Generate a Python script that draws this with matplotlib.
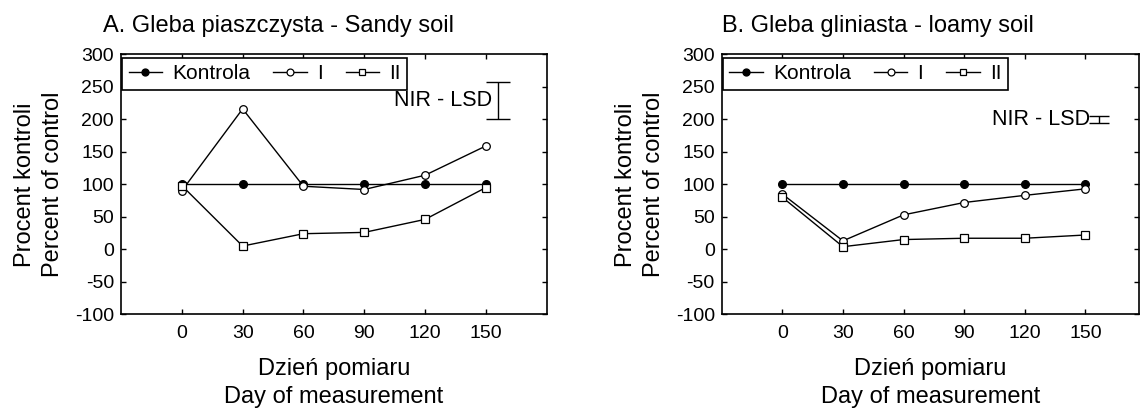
import matplotlib
matplotlib.use("Agg")
import matplotlib.pyplot as plt

plt.rcParams['font.family'] = ['Liberation Sans', 'DejaVu Sans']
plt.rcParams['axes.unicode_minus'] = False

# Measurement days
days = [0, 30, 60, 90, 120, 150]

# A. Sandy soil (percent of control)
a_kontrola = [100, 100, 100, 100, 100, 100]
a_one = [90, 216, 97, 92, 114, 159]
a_two = [98, 5, 24, 26, 46, 95]

# B. Loamy soil (percent of control)
b_kontrola = [100, 100, 100, 100, 100, 100]
b_one = [85, 13, 53, 72, 83, 93]
b_two = [80, 4, 15, 17, 17, 22]

# NIR - LSD bars: (day, centre, half width)
lsd_a = (156, 229, 29)
lsd_b = (156.5, 199.5, 5.5)

titles = ["A. Gleba piaszczysta - Sandy soil", "B. Gleba gliniasta - loamy soil"]

W, H = 1140, 408
fig = plt.figure(figsize=(W / 100, H / 100), dpi=100)

top_px, bot_px = 54.3, 314.3
ax_a = fig.add_axes([121 / W, (H - bot_px) / H, (546.7 - 121) / W, (bot_px - top_px) / H])
ax_b = fig.add_axes([721.7 / W, (H - bot_px) / H, (1139.2 - 721.7) / W, (bot_px - top_px) / H])


def draw_panel(ax, kontrola, one, two, lsd, capsize, text_gap, xmax):
    ax.plot(days, kontrola, color='black', lw=1.0, marker='o', ms=5.5,
            mfc='black', mec='black', label='Kontrola')
    ax.plot(days, one, color='black', lw=1.0, marker='o', ms=5.5,
            mfc='white', mec='black', mew=0.9, label='I')
    ax.plot(days, two, color='black', lw=1.0, marker='s', ms=5.5,
            mfc='white', mec='black', mew=0.9, label='II')

    ax.errorbar([lsd[0]], [lsd[1]], yerr=[lsd[2]], fmt='none', ecolor='black',
                elinewidth=1.0, capsize=capsize, capthick=1.0)
    ax.text(lsd[0] - text_gap, lsd[1], "NIR - LSD", ha='right', va='center', fontsize=15.5)

    ax.set_xlim(-30, xmax)
    ax.set_ylim(-100, 300)
    ax.set_xticks(days)
    ax.set_yticks(range(-100, 301, 50))
    ax.tick_params(direction='in', length=3.5, width=1.0, labelsize=14,
                   top=True, right=True, pad=5)
    ax.tick_params(axis='x', pad=8)
    for s in ax.spines.values():
        s.set_linewidth(1.2)

    ax.set_ylabel("Procent kontroli\nPercent of control", fontsize=17,
                  linespacing=1.35, labelpad=8)
    ax.set_xlabel("Dzień pomiaru\nDay of measurement", fontsize=17,
                  linespacing=1.4, labelpad=11)

    leg = ax.legend(loc='upper left', bbox_to_anchor=(0.003, 0.985), ncol=3,
                    fontsize=15, frameon=True, fancybox=False, borderaxespad=0,
                    handlelength=1.6, handletextpad=0.5, columnspacing=1.1,
                    borderpad=0.3, markerscale=0.9)
    leg.get_frame().set_edgecolor('black')
    leg.get_frame().set_linewidth(1.2)
    leg.get_frame().set_alpha(1)


draw_panel(ax_a, a_kontrola, a_one, a_two, lsd_a, 8.5, 3, 180)
draw_panel(ax_b, b_kontrola, b_one, b_two, lsd_b, 7, 4, 176.6)

fig.text(103 / W, (H - 32) / H, titles[0], ha='left', va='baseline', fontsize=17)
fig.text(722 / W, (H - 32) / H, titles[1], ha='left', va='baseline', fontsize=17)

fig.savefig("out.png", dpi=100)
